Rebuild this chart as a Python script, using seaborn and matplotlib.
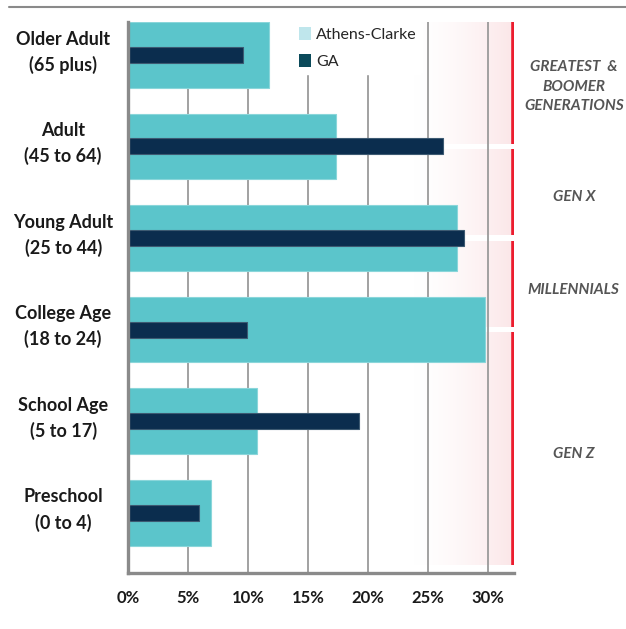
import numpy as np
import pandas as pd
import matplotlib
matplotlib.use("Agg")
import matplotlib.pyplot as plt
from matplotlib.patches import Patch
from matplotlib.lines import Line2D
import seaborn as sns

# data (share of population, %)
groups = ["Older Adult\n(65 plus)", "Adult\n(45 to 64)", "Young Adult\n(25 to 44)",
          "College Age\n(18 to 24)", "School Age\n(5 to 17)", "Preschool\n(0 to 4)"]
athens = [11.75, 17.3, 27.4, 29.75, 10.75, 6.9]
ga = [9.6, 26.25, 28.0, 9.9, 19.25, 5.9]
xticks = [0, 5, 10, 15, 20, 25, 30]

# generation bands (in category units) and their labels
gen_names = ["GREATEST  &\nBOOMER\nGENERATIONS", "GEN X", "MILLENNIALS", "GEN Z"]
gen_spans = [(-0.36, 1.0), (1.0, 2.0), (2.0, 3.0), (3.0, 5.57)]
gen_text_y = [0.35, 1.55, 2.57, 4.36]

df = pd.DataFrame({"group": groups, "athens": athens, "ga": ga})

sns.set_theme(style="white")
plt.rcParams["font.family"] = ["Lato", "DejaVu Sans"]

fig, ax = plt.subplots(figsize=(6.26, 6.29), dpi=100)
fig.subplots_adjust(left=128/626, right=514/626, top=1-22/629, bottom=1-573/629)

xmax = 32.15
red_x = 32.05

# faint pink gradient background on the right
grad = np.zeros((1, 200, 4))
grad[..., 0] = 0.985
grad[..., 1] = 0.895
grad[..., 2] = 0.905
grad[..., 3] = np.linspace(0, 0.95, 200) ** 1.6
ax.imshow(grad, extent=[23.5, red_x, gen_spans[-1][1], gen_spans[0][0]],
          aspect="auto", zorder=0.1, interpolation="bilinear")

# white gaps between generations + red segments
gap = 0.028
for lo, hi in gen_spans:
    ax.vlines(red_x, lo + (gap if lo > 0 else 0), hi - (gap if hi < 5 else 0),
              color="#ec1c2e", lw=2.6, zorder=3)
for lo, hi in gen_spans[1:]:
    ax.axhspan(lo - gap, lo + gap, xmin=0, xmax=1, color="white", zorder=0.3, lw=0)

sns.barplot(data=df, x="athens", y="group", orient="h", color="#5bc5cb",
            saturation=1, width=0.72, edgecolor="#8ad6da", linewidth=0.8, ax=ax, zorder=2)
sns.barplot(data=df, x="ga", y="group", orient="h", color="#0b2d4e",
            saturation=1, width=0.175, edgecolor="#3d5a72", linewidth=0.8, ax=ax, zorder=2.5)

ax.set_xlim(0, xmax)
ax.set_ylim(5.66, -0.36)
ax.set_xticks(xticks)
ax.set_xticklabels([f"{t}%" for t in xticks], fontsize=12, fontweight="bold", color="#1a1a1a")
ax.set_xlabel("")
ax.set_ylabel("")
ax.set_yticklabels([])
ax.set_axisbelow(True)
ax.xaxis.grid(True, color="#9a9a9a", lw=1.3, zorder=0.5)
ax.yaxis.grid(False)
ax.tick_params(axis="x", length=0, pad=12)
ax.tick_params(axis="y", length=0)

# category labels, centred in the left margin
ytrans = ax.get_yaxis_transform()
for i, g in enumerate(groups):
    ax.text(-0.168, i - 0.03, g, transform=ytrans, ha="center", va="center",
            multialignment="center", fontsize=13, fontweight="bold", color="#1a1a1a",
            linespacing=1.55, clip_on=False)

for side in ["top", "right"]:
    ax.spines[side].set_visible(False)
for side in ["left", "bottom"]:
    ax.spines[side].set_color("#8a8a8a")
    ax.spines[side].set_linewidth(2.4)

# generation labels to the right of the plot
for name, yy in zip(gen_names, gen_text_y):
    ax.text(1.155, yy, name, transform=ytrans, ha="center", va="center",
            fontsize=11, fontstyle="italic", fontweight="bold", color="#555555",
            linespacing=1.5, clip_on=False)

handles = [Patch(facecolor="#bfe6ec", edgecolor="none", label="Athens-Clarke"),
           Patch(facecolor="#0b4a5a", edgecolor="none", label="GA")]
leg = ax.legend(handles=handles, loc="upper left", bbox_to_anchor=(0.43, 1.0),
                frameon=True, fontsize=11.5, handlelength=0.75, handleheight=0.9,
                handletextpad=0.35, labelspacing=0.75, borderpad=0.3, borderaxespad=0)
leg.get_frame().set_facecolor("white")
leg.get_frame().set_edgecolor("white")
leg.get_frame().set_alpha(1)
leg.set_zorder(4)

# thin rule across the top
fig.add_artist(Line2D([9/626, 1], [1-7/629, 1-7/629], color="#8a8a8a", lw=1.5))

fig.savefig("out.png", dpi=100)
